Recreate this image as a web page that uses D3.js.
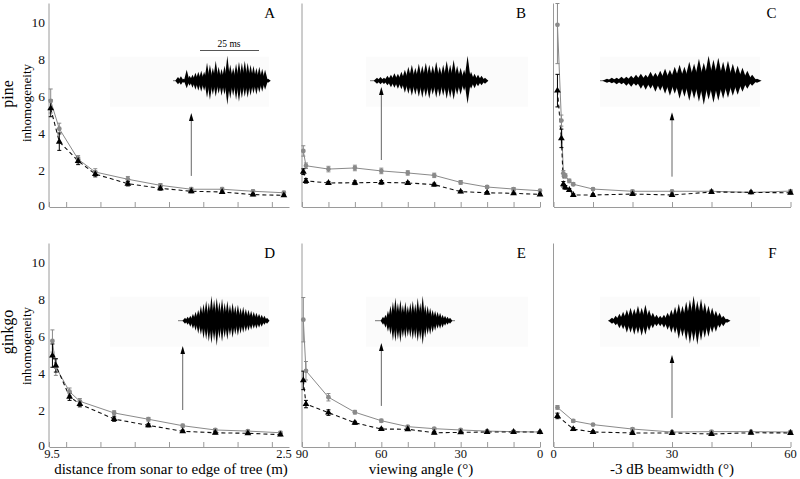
<!DOCTYPE html>
<html>
<head>
<meta charset="utf-8">
<script src="https://cdn.jsdelivr.net/npm/d3@7"></script>
<style>
  body { margin: 0; background: #fff; }
  svg { display: block; font-family: "Liberation Serif", "Times New Roman", serif; }
</style>
</head>
<body>
<svg id="chart" width="800" height="479"></svg>
<script>
// ---- data ----
// pine (top row)
const pineDist = [9.45, 9.2, 8.65, 8.15, 7.2, 6.25, 5.35, 4.45, 3.55, 2.65];
const pineDistGrey = [5.73, 4.23, 2.58, 1.89, 1.5, 1.17, 0.96, 0.96, 0.85, 0.77];
const pineDistGreyErr = [0.65, 0.3, 0.2, 0.18, 0.15, 0.1, 0.1, 0.1, 0.08, 0.08];
const pineDistBlack = [5.33, 3.53, 2.49, 1.78, 1.26, 1.01, 0.85, 0.81, 0.67, 0.63];
const pineDistBlackErr = [0.45, 0.47, 0.2, 0.15, 0.12, 0.1, 0.08, 0.08, 0.06, 0.06];

const angles = [89.5, 88.5, 80, 70, 60, 50, 40, 30, 20, 10, 0];
const pineAngGrey = [3.03, 2.23, 2.05, 2.11, 1.95, 1.84, 1.71, 1.33, 1.08, 0.97, 0.88];
const pineAngGreyErr = [0.28, 0.15, 0.15, 0.15, 0.15, 0.12, 0.12, 0.1, 0.08, 0.08, 0.06];
const pineAngBlack = [1.91, 1.41, 1.3, 1.31, 1.33, 1.3, 1.21, 0.83, 0.77, 0.74, 0.68];
const pineAngBlackErr = [0.15, 0.12, 0.08, 0.1, 0.1, 0.08, 0.08, 0.06, 0.06, 0.06, 0.06];

const pineBeam = [1, 2, 2.5, 3, 4, 5, 10, 20, 30, 40, 50, 60];
const pineBeamGrey = [9.85, 4.67, 1.82, 1.68, 1.41, 1.23, 0.97, 0.85, 0.85, 0.85, 0.79, 0.86];
const pineBeamGreyErr = [2.1, 0.3, 0.15, 0.12, 0.1, 0.08, 0.06, 0.06, 0.06, 0.06, 0.06, 0.06];
const pineBeamBlack = [6.29, 3.71, 1.23, 1.06, 0.92, 0.65, 0.65, 0.7, 0.65, 0.81, 0.79, 0.77];
const pineBeamBlackErr = [0.88, 0.5, 0.15, 0.1, 0.08, 0.06, 0.06, 0.06, 0.06, 0.06, 0.06, 0.06];

// ginkgo (bottom row)
const ginkgoDist = [9.4, 9.3, 8.9, 8.6, 7.6, 6.6, 5.6, 4.65, 3.7, 2.75];
const ginkgoDistGrey = [5.73, 4.32, 2.99, 2.47, 1.84, 1.5, 1.15, 0.92, 0.86, 0.77];
const ginkgoDistGreyErr = [0.6, 0.45, 0.2, 0.15, 0.12, 0.1, 0.08, 0.08, 0.06, 0.06];
const ginkgoDistBlack = [4.94, 4.41, 2.72, 2.32, 1.51, 1.17, 0.85, 0.77, 0.74, 0.67];
const ginkgoDistBlackErr = [0.63, 0.36, 0.2, 0.15, 0.12, 0.08, 0.06, 0.06, 0.06, 0.06];

const ginkgoAngGrey = [6.88, 4.12, 2.69, 1.88, 1.42, 1.1, 0.99, 0.92, 0.86, 0.83, 0.81];
const ginkgoAngGreyErr = [1.2, 0.5, 0.2, 0.1, 0.08, 0.06, 0.06, 0.06, 0.06, 0.06, 0.06];
const ginkgoAngBlack = [3.6, 2.32, 1.86, 1.31, 0.97, 0.96, 0.77, 0.79, 0.81, 0.81, 0.81];
const ginkgoAngBlackErr = [0.5, 0.2, 0.15, 0.08, 0.06, 0.06, 0.06, 0.06, 0.06, 0.06, 0.06];

const ginkgoBeam = [1, 5, 10, 20, 30, 40, 50, 60];
const ginkgoBeamGrey = [2.14, 1.41, 1.21, 0.97, 0.81, 0.83, 0.83, 0.81];
const ginkgoBeamGreyErr = [0.1, 0.08, 0.06, 0.06, 0.06, 0.06, 0.06, 0.06];
const ginkgoBeamBlack = [1.68, 0.97, 0.81, 0.76, 0.76, 0.7, 0.77, 0.76];
const ginkgoBeamBlackErr = [0.15, 0.08, 0.06, 0.06, 0.06, 0.06, 0.06, 0.06];

// echo waveform envelopes (0-10, upper / lower half)
const waveA = [[1.5,1.8,0.8,4.4,2,2.4,3.2,3.6,4,3.6,7.2,6.4,5.2,8,5.6,4.8,6,10,6.4,5.2,6.8,7.6,7.2,8,7.2,6.4,6,5.2,5.6,4.8,4.4,0.8],
               [1.4,1.6,0.8,3,2,2.8,3.6,4,4.4,4,6.8,7.6,5.6,6.4,5.2,6,5.6,9.6,7.2,6,7.6,8.4,7,6.4,6.8,6,5.2,5.6,4.8,4.4,3.6,0.8]];
const waveB = [[1.2,1.5,1.2,2,2.4,3,2.8,3.6,4.4,5.6,6.4,5.2,6.8,6,7.2,6.4,6,7.6,5.6,6.4,8,6.4,8.4,6,5.2,4.4,10,3.6,2.8,2.4,2,1.2],
               [1.2,1.4,1.3,1.8,2.6,2.8,3.2,3.4,4.8,5.2,6,5.6,6.4,6.8,6.4,7.2,5.6,6.8,6.4,6,7.2,6.8,7.6,5.6,5.6,4,9.2,3.2,3,2.2,1.8,1.2]];
const waveC = [[0.8,1.2,1.2,1.6,1.6,2,2.4,2.8,2.4,3.6,3.2,4,4.8,4.4,5.6,6.4,5.6,7.6,6.8,8.8,7.2,10,8.4,9.2,7.6,8,6.8,6,5.2,4,2.4,0.8],
               [0.8,1,1.4,1.4,2,2.4,2,3.2,3.6,3.2,4.4,4,5.2,6,5.2,7.2,6.4,8,7.2,8.4,9.6,7.6,8.8,8,7.2,6.8,6,5.6,4.4,3.2,2,0.8]];
const waveD = [[1.2,1.6,2,2.8,3.6,4.4,6,6.8,8,7.2,10,8.4,9.2,7.6,8.8,7.2,8,6.4,7.2,6,6.4,5.2,5.6,4.8,4.4,4,3.6,3.2,2.8,2.4,2,1.2],
               [1.2,1.6,2.4,3.2,4,5.2,5.6,7.2,7.6,8.4,9.2,8,10,7.2,8.4,6.8,7.6,6,6.8,5.6,6,5.2,4.8,4.4,4,3.6,3.2,3.2,2.8,2.4,1.6,1.2]];
const waveE = [[1.6,2.4,4,6,7.6,9.2,7.2,8.4,6.4,7.6,6,7.2,8,6.8,9.2,7.2,10,6.4,6,5.2,4.4,4,3.6,3.2,2.4,2,1.6,1.2],
               [1.6,2.8,4.4,5.6,8,8.4,7.6,8.8,6.8,7.2,6.4,6.8,7.6,7.2,8.4,7.6,9.6,6.8,5.6,5.6,4.8,4,3.2,3.2,2.8,2,1.6,1.2]];
const waveF = [[1.2,2,2.8,3.6,4.4,5.2,4.8,6,5.2,6.4,4.4,3.2,2.4,2,2.4,3.2,4.4,5.6,6.8,6,7.6,8.4,10,8,8.8,7.2,6,5.2,4,3.2,2,0.8],
               [1.2,1.8,3,3.4,4.8,4.8,5.6,5.2,6,5.6,4,3,2.2,2.2,2.8,3.6,4.8,5.2,7.2,6.4,8,9.2,8.4,9.6,8,6.8,6.4,4.8,4.4,2.8,2.2,0.8]];

const yTicks = [0, 2, 4, 6, 8, 10];

// ---- layout ----
const svg = d3.select('#chart');
const rows = [{ base: 207, name: 'pine', nameY: 94, inhY: 103 },
              { base: 447, name: 'ginkgo', nameY: 332, inhY: 346 }];
const cols = [
  { domain: [9.5, 2.5], range: [49, 289], ticks: [9.5, 9, 8, 7, 6, 5, 4, 3], labels: [9.5, 2.5],
    title: 'distance from sonar to edge of tree (m)' },
  { domain: [90, 0], range: [302, 540], ticks: d3.range(90, -1, -10), labels: [90, 60, 30, 0],
    title: 'viewing angle (°)' },
  { domain: [0, 60], range: [553.5, 790.5], ticks: d3.range(0, 61, 10), labels: [0, 30, 60],
    title: '-3 dB beamwidth (°)' }
];

const panels = [
  { r: 0, c: 0, letter: 'A', x: pineDist, g: pineDistGrey, ge: pineDistGreyErr, b: pineDistBlack, be: pineDistBlackErr,
    arrow: [5.35, 1.68, 5.08], wave: waveA, tail: [173, 270], body: [178, 268], box: [110, 269] },
  { r: 0, c: 1, letter: 'B', x: angles, g: pineAngGrey, ge: pineAngGreyErr, b: pineAngBlack, be: pineAngBlackErr,
    arrow: [60, 2.54, 6.49], wave: waveB, tail: [370, 488], body: [377, 485], box: [366, 528] },
  { r: 0, c: 2, letter: 'C', x: pineBeam, g: pineBeamGrey, ge: pineBeamGreyErr, b: pineBeamBlack, be: pineBeamBlackErr,
    arrow: [30, 1.64, 5.12], wave: waveC, tail: [600, 758], body: [607, 757], box: [600, 760] },
  { r: 1, c: 0, letter: 'D', x: ginkgoDist, g: ginkgoDistGrey, ge: ginkgoDistGreyErr, b: ginkgoDistBlack, be: ginkgoDistBlackErr,
    arrow: [5.6, 2.0, 5.46], wave: waveD, tail: [178, 268], body: [185, 267], box: [110, 269] },
  { r: 1, c: 1, letter: 'E', x: angles, g: ginkgoAngGrey, ge: ginkgoAngGreyErr, b: ginkgoAngBlack, be: ginkgoAngBlackErr,
    arrow: [60, 2.22, 5.62], wave: waveE, tail: [375, 455], body: [383, 450], box: [366, 528] },
  { r: 1, c: 2, letter: 'F', x: ginkgoBeam, g: ginkgoBeamGrey, ge: ginkgoBeamGreyErr, b: ginkgoBeamBlack, be: ginkgoBeamBlackErr,
    arrow: [30, 1.57, 4.97], wave: waveF, tail: [608, 728], body: [612, 727], box: [600, 760] }
];

const axisCol = '#9a9a9a';
const greyCol = '#8a8a8a';
const ampScale = d3.scaleLinear().domain([0, 10]).range([0, 25]);

panels.forEach(p => {
  const row = rows[p.r], col = cols[p.c];
  const x = d3.scaleLinear().domain(col.domain).range(col.range);
  const y = d3.scaleLinear().domain([0, 11]).range([row.base, row.base - 203.5]);
  const g = svg.append('g');

  // waveform inset: faint image box, baseline, one tapered spike per envelope sample
  const cy = row.base - 126.3;
  g.append('rect').attr('x', p.box[0]).attr('y', cy - 24).attr('width', p.box[1] - p.box[0]).attr('height', 50)
    .attr('fill', '#fbfbfb');
  g.append('line').attr('x1', p.tail[0]).attr('x2', p.tail[1]).attr('y1', cy).attr('y2', cy)
    .attr('stroke', '#777').attr('stroke-width', 1);
  const wx = d3.scaleLinear().domain([0, p.wave[0].length - 1]).range(p.body);
  const hw = (wx(1) - wx(0)) * 0.95;
  g.selectAll('.spike').data(p.wave[0]).join('path')
    .attr('d', (d, i) => {
      const sx = wx(i), up = ampScale(d), lo = ampScale(p.wave[1][i]);
      return `M${sx - hw},${cy}L${sx},${cy - up}L${sx + hw},${cy}L${sx},${cy + lo}Z`;
    })
    .attr('fill', '#000');

  if (p.letter === 'A') {
    g.append('line').attr('x1', 200).attr('x2', 259).attr('y1', 50.5).attr('y2', 50.5).attr('stroke', '#555');
    g.append('text').attr('x', 229).attr('y', 46.5).attr('text-anchor', 'middle').attr('font-size', 9.5).text('25 ms');
  }

  // arrow pointing to the inset
  const ax = x(p.arrow[0]);
  g.append('line').attr('x1', ax).attr('x2', ax).attr('y1', y(p.arrow[1])).attr('y2', y(p.arrow[2]) + 6)
    .attr('stroke', '#666').attr('stroke-width', 1);
  g.append('path')
    .attr('d', `M${ax},${y(p.arrow[2])}L${ax - 2.3},${y(p.arrow[2]) + 8}L${ax + 2.3},${y(p.arrow[2]) + 8}Z`)
    .attr('fill', '#000');

  // axes
  g.append('line').attr('x1', col.range[0]).attr('x2', col.range[0]).attr('y1', y(0)).attr('y2', y(11))
    .attr('stroke', axisCol);
  const xAxis = d3.axisBottom(x).tickValues(col.ticks).tickSizeInner(-5).tickSizeOuter(0).tickFormat('');
  const xg = g.append('g').attr('transform', `translate(0,${row.base})`).call(xAxis);
  xg.select('.domain').attr('stroke', axisCol);
  xg.selectAll('.tick line').attr('stroke', axisCol);

  if (p.r === 1) {
    g.selectAll('.xlab').data(col.labels).join('text')
      .attr('x', (d, i) => x(d) + (p.c === 0 ? (i === 0 ? 3 : -5) : 0))
      .attr('y', row.base + 10.5)
      .attr('text-anchor', 'middle').attr('font-size', 12.5).attr('fill', '#111').text(d => d);
    g.append('text').attr('x', (col.range[0] + col.range[1]) / 2 + (p.c === 0 ? 2 : 0)).attr('y', 473.5)
      .attr('text-anchor', 'middle').attr('font-size', 15).text(col.title);
  }

  if (p.c === 0) {
    g.selectAll('.ylab').data(yTicks).join('text')
      .attr('x', col.range[0] - 4).attr('y', d => y(d) + (d === 0 ? -2 : 0)).attr('dy', '0.35em')
      .attr('text-anchor', 'end').attr('font-size', 13.5).attr('fill', '#111').text(d => d);
    g.append('text').attr('transform', `translate(13,${row.nameY}) rotate(-90)`)
      .attr('text-anchor', 'middle').attr('font-size', 16).text(row.name);
    g.append('text').attr('transform', `translate(31,${row.inhY}) rotate(-90)`)
      .attr('text-anchor', 'middle').attr('font-size', 13).text('inhomogeneity');
  }
  g.append('text').attr('x', col.range[1] - 14).attr('y', row.base - 189)
    .attr('text-anchor', 'end').attr('font-size', 15).text(p.letter);

  // grey series (solid, circles) and black series (dashed, triangles)
  const idx = d3.range(p.x.length);
  const line = vals => d3.line().x(i => x(p.x[i])).y(i => y(vals[i]));
  g.append('path').datum(idx).attr('d', line(p.g)).attr('fill', 'none').attr('stroke', greyCol).attr('stroke-width', 1);
  g.append('path').datum(idx).attr('d', line(p.b)).attr('fill', 'none').attr('stroke', '#111')
    .attr('stroke-width', 1.1).attr('stroke-dasharray', '4,3');

  const errBars = (vals, errs, color) => {
    idx.forEach(i => {
      const lo = y(vals[i] - errs[i]), hi = y(Math.min(11, vals[i] + errs[i])), cx = x(p.x[i]);
      g.append('line').attr('x1', cx).attr('x2', cx).attr('y1', lo).attr('y2', hi).attr('stroke', color).attr('stroke-width', 1);
      [lo, hi].forEach(v => g.append('line').attr('x1', cx - 2).attr('x2', cx + 2).attr('y1', v).attr('y2', v)
        .attr('stroke', color).attr('stroke-width', 1));
    });
  };
  errBars(p.g, p.ge, greyCol);
  errBars(p.b, p.be, '#000');

  g.selectAll('.gdot').data(idx).join('circle')
    .attr('cx', i => x(p.x[i])).attr('cy', i => y(p.g[i])).attr('r', 2.4).attr('fill', greyCol);
  g.selectAll('.bdot').data(idx).join('path')
    .attr('transform', i => `translate(${x(p.x[i])},${y(p.b[i])})`)
    .attr('d', d3.symbol(d3.symbolTriangle, 20)).attr('fill', '#000');
});
</script>
</body>
</html>
